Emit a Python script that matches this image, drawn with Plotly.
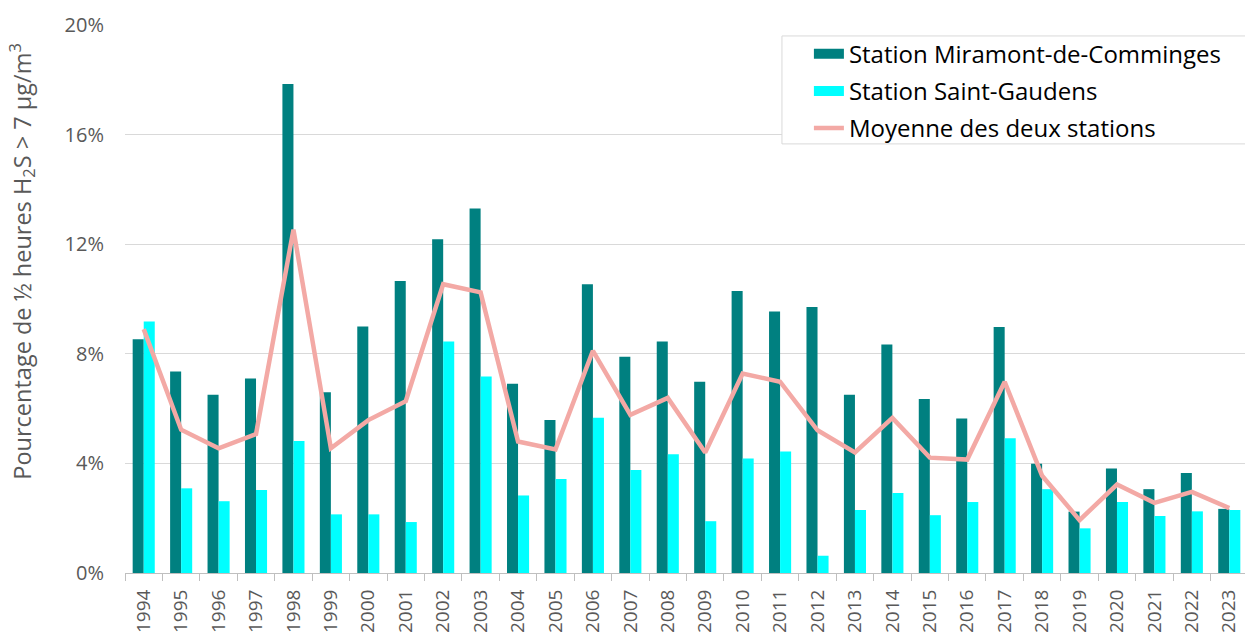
import plotly.graph_objects as go

years = [str(y) for y in range(1994, 2024)]
miramont = [8.53, 7.35, 6.51, 7.10, 17.85, 6.60, 9.00, 10.66, 12.18, 13.30,
            6.91, 5.58, 10.54, 7.89, 8.45, 6.98, 10.29, 9.54, 9.71, 6.51,
            8.34, 6.35, 5.64, 8.98, 3.99, 2.24, 3.81, 3.06, 3.65, 2.34]
saint_gaudens = [9.18, 3.09, 2.62, 3.03, 4.82, 2.14, 2.14, 1.86, 8.45, 7.17,
                 2.83, 3.43, 5.67, 3.76, 4.33, 1.89, 4.18, 4.43, 0.63, 2.30,
                 2.92, 2.11, 2.59, 4.92, 3.06, 1.63, 2.59, 2.08, 2.25, 2.30]
moyenne = [8.90, 5.23, 4.55, 5.07, 12.53, 4.55, 5.58, 6.27, 10.54, 10.24,
           4.80, 4.51, 8.11, 5.77, 6.39, 4.40, 7.28, 6.98, 5.21, 4.40,
           5.66, 4.21, 4.14, 6.98, 3.55, 1.93, 3.23, 2.56, 2.96, 2.37]
y_ticks = [0, 4, 8, 12, 16, 20]
y_ticklabels = ["0%", "4%", "8%", "12%", "16%", "20%"]

names = ["Station Miramont-de-Comminges", "Station Saint-Gaudens", "Moyenne des deux stations"]
c_dark = "#008080"
c_cyan = "#00FFFF"
c_pink = "#F3A9A5"
font = "Segoe UI, Open Sans, Noto Sans, sans-serif"

fig = go.Figure()
fig.add_trace(go.Bar(x=years, y=miramont, name=names[0], marker_color=c_dark,
                     marker_line_width=0, showlegend=False))
fig.add_trace(go.Bar(x=years, y=saint_gaudens, name=names[1], marker_color=c_cyan,
                     marker_line_width=0, showlegend=False))
fig.add_trace(go.Scatter(x=years, y=moyenne, name=names[2], mode="lines",
                         line=dict(color=c_pink, width=4.5), showlegend=False))

# legend entries (Excel-style wide swatches)
fig.add_trace(go.Scatter(x=[None], y=[None], mode="lines", name=names[0],
                         line=dict(color=c_dark, width=12), legendgroup="a"))
fig.add_trace(go.Scatter(x=[None], y=[None], mode="lines", name=names[1],
                         line=dict(color=c_cyan, width=12), legendgroup="b"))
fig.add_trace(go.Scatter(x=[None], y=[None], mode="lines", name=names[2],
                         line=dict(color=c_pink, width=4.5), legendgroup="c"))

fig.update_layout(
    width=1245, height=625,
    margin=dict(l=117, r=5, t=17, b=60),
    paper_bgcolor="white", plot_bgcolor="white",
    barmode="group", bargap=0.41, bargroupgap=0,
    font=dict(family=font, color="#595959"),
    legend=dict(x=0.609, xanchor="left", y=0.988, yanchor="top",
                bgcolor="rgba(0,0,0,0)", borderwidth=0,
                font=dict(size=24, color="#000000", family=font),
                tracegroupgap=3, itemwidth=30),
    xaxis=dict(type="category", tickangle=-90, tickson="boundaries",
               ticks="outside", ticklen=7, tickcolor="#BFBFBF",
               showline=True, linecolor="#BFBFBF", linewidth=1,
               tickfont=dict(size=19, color="#595959"), automargin=False,
               ticklabelstandoff=8, showgrid=False),
    yaxis=dict(range=[0, 20], tickvals=y_ticks, ticktext=y_ticklabels,
               showgrid=True, gridcolor="#D9D9D9", gridwidth=1,
               zeroline=False, showline=False, ticks="",
               tickfont=dict(size=20, color="#595959"),
               ticklabelstandoff=20, automargin=False),
    shapes=[dict(type="rect", xref="paper", yref="paper",
                 x0=0.585, x1=1.0036, y0=0.783, y1=0.980,
                 line=dict(color="#D9D9D9", width=1), fillcolor="white",
                 layer="above")],
    annotations=[dict(text="Pourcentage de ½ heures H<sub>2</sub>S > 7 µg/m<sup>3</sup>",
                      xref="paper", yref="paper", x=-0.092, y=0.5675,
                      xanchor="center", yanchor="middle", textangle=-90,
                      showarrow=False, font=dict(size=23.5, color="#595959", family=font))],
)

fig.write_html("out.html")
